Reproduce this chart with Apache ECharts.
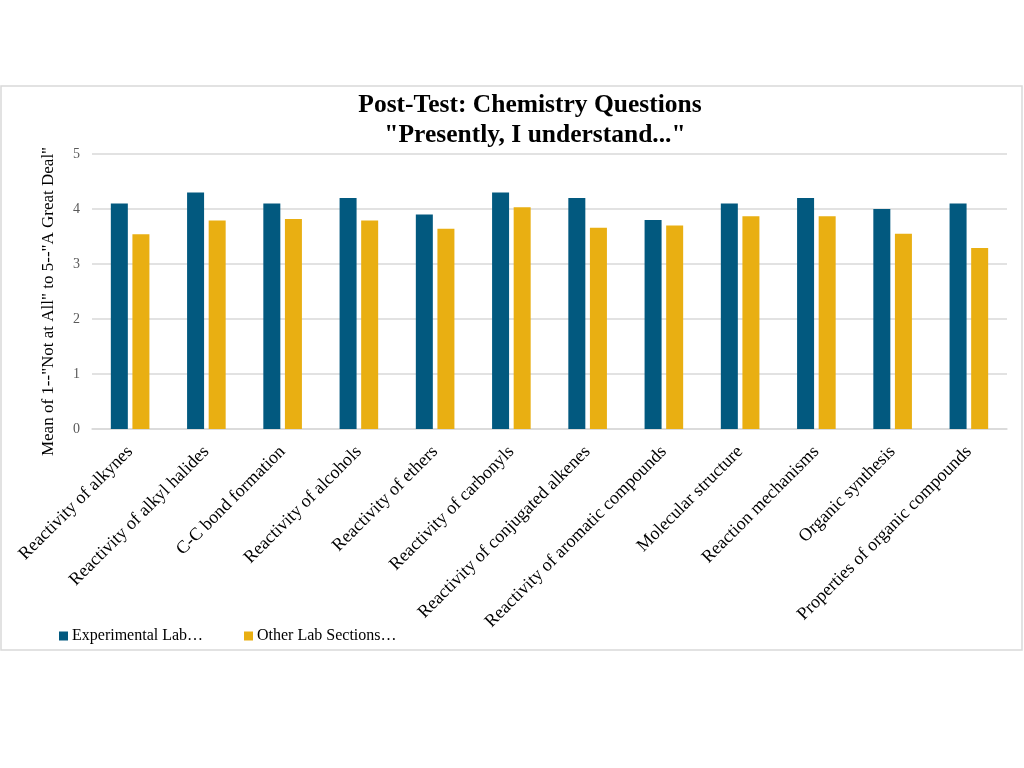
<!DOCTYPE html>
<html>
<head>
<meta charset="utf-8">
<script src="https://cdn.jsdelivr.net/npm/echarts@6/dist/echarts.min.js"></script>
<style>
html,body{margin:0;padding:0;background:#fff;}
#chart{width:1024px;height:768px;}
</style>
</head>
<body>
<div id="chart"></div>
<script>
const categories = [
  'Reactivity of alkynes',
  'Reactivity of alkyl halides',
  'C-C bond formation',
  'Reactivity of alcohols',
  'Reactivity of ethers',
  'Reactivity of carbonyls',
  'Reactivity of conjugated alkenes',
  'Reactivity of aromatic compounds',
  'Molecular structure',
  'Reaction mechanisms',
  'Organic synthesis',
  'Properties of organic compounds'
];
const experimentalLab = [4.1, 4.3, 4.1, 4.2, 3.9, 4.3, 4.2, 3.8, 4.1, 4.2, 4.0, 4.1];
const otherLabSections = [3.54, 3.79, 3.82, 3.79, 3.64, 4.03, 3.66, 3.70, 3.87, 3.87, 3.55, 3.29];
const seriesNames = ['Experimental Lab…', 'Other Lab Sections…'];
const yTicks = [0, 1, 2, 3, 4, 5];
const titleLines = ['Post-Test: Chemistry Questions', '"Presently, I understand..."'];

const FONT = '"Liberation Serif", "DejaVu Serif", serif';
const chart = echarts.init(document.getElementById('chart'));
chart.setOption({
  backgroundColor: '#fff',
  animation: false,
  textStyle: { fontFamily: FONT },
  graphic: [
    {
      type: 'rect',
      shape: { x: 1, y: 86, width: 1021, height: 564 },
      style: { fill: 'none', stroke: '#d9d9d9', lineWidth: 1.5 },
      silent: true
    },
    {
      type: 'text', x: 530, y: 105, silent: true,
      style: { text: titleLines[0], textAlign: 'center', textVerticalAlign: 'middle',
        font: 'bold 25.5px "Liberation Serif", serif', fill: '#000' }
    },
    {
      type: 'text', x: 535, y: 135, silent: true,
      style: { text: titleLines[1], textAlign: 'center', textVerticalAlign: 'middle',
        font: 'bold 25.5px "Liberation Serif", serif', fill: '#000' }
    }
  ],
  legend: [
    {
      data: [seriesNames[0]],
      left: 54, top: 623,
      itemWidth: 9, itemHeight: 9, icon: 'rect',
      textStyle: { fontFamily: FONT, fontSize: 16, color: '#000', padding: [0, 0, 0, -1] }
    },
    {
      data: [seriesNames[1]],
      left: 239, top: 623,
      itemWidth: 9, itemHeight: 9, icon: 'rect',
      textStyle: { fontFamily: FONT, fontSize: 16, color: '#000', padding: [0, 0, 0, -1] }
    }
  ],
  grid: { left: 92, right: 17, top: 154, bottom: 339, containLabel: false },
  xAxis: {
    type: 'category',
    data: categories,
    axisLine: { show: true, lineStyle: { color: '#d9d9d9', width: 1.5 } },
    axisTick: { show: false },
    axisLabel: {
      rotate: 45, interval: 0, margin: 20,
      fontFamily: FONT, fontSize: 18, color: '#000'
    }
  },
  yAxis: {
    type: 'value',
    min: yTicks[0], max: yTicks[yTicks.length - 1], interval: 1,
    name: 'Mean of 1--"Not at All" to 5--"A Great Deal"',
    nameLocation: 'middle',
    nameGap: 35,
    nameTextStyle: { fontFamily: FONT, fontSize: 17, color: '#000', padding: [0, 0, 0, -20] },
    axisLine: { show: false },
    axisTick: { show: false },
    axisLabel: { margin: 12, fontFamily: FONT, fontSize: 14, color: '#595959' },
    splitLine: { lineStyle: { color: '#d9d9d9', width: 1.5 } }
  },
  series: [
    {
      name: seriesNames[0], type: 'bar', data: experimentalLab,
      barWidth: 17, barGap: '27%',
      itemStyle: { color: '#02597f' }
    },
    {
      name: seriesNames[1], type: 'bar', data: otherLabSections,
      barWidth: 17,
      itemStyle: { color: '#e9af12' }
    }
  ]
});
</script>
</body>
</html>
